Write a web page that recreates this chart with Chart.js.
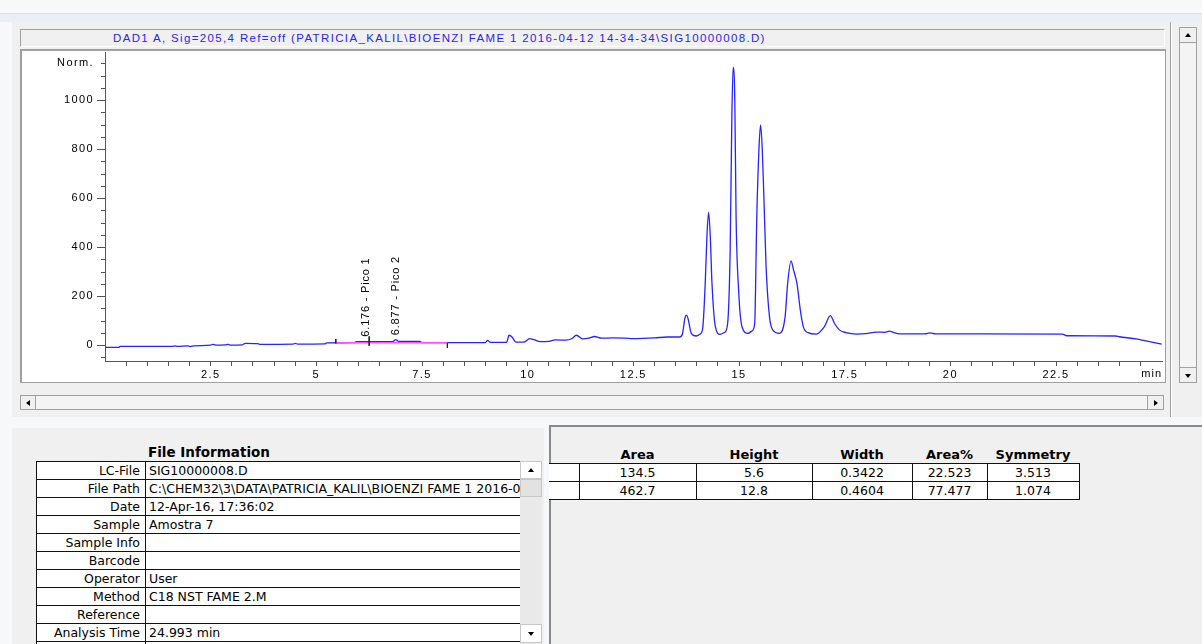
<!DOCTYPE html>
<html>
<head>
<meta charset="utf-8">
<script src="https://cdn.jsdelivr.net/npm/chart.js@4.4.0/dist/chart.umd.min.js"></script>
<style>
  body { margin:0; width:1202px; height:644px; overflow:hidden; position:relative; background:#f7f8fa; font-family:"DejaVu Sans", sans-serif; }
  .abs { position:absolute; box-sizing:border-box; }
  .sunken { border-top:1px solid #a0a0a0; border-left:1px solid #a0a0a0; border-bottom:1px solid #fff; border-right:1px solid #fff; }
  .btn { position:absolute; box-sizing:border-box; background:#f0f0f0; border:1px solid #a0a0a0; }
  .up, .down, .left, .right { position:absolute; width:0; height:0; }
  .up { border-left:3px solid transparent; border-right:3px solid transparent; border-bottom:4px solid #000; }
  .down { border-left:3px solid transparent; border-right:3px solid transparent; border-top:4px solid #000; }
  .left { border-top:3px solid transparent; border-bottom:3px solid transparent; border-right:4px solid #000; }
  .right { border-top:3px solid transparent; border-bottom:3px solid transparent; border-left:4px solid #000; }
  table { border-collapse:collapse; table-layout:fixed; font-size:12.5px; }
  td { border:1px solid #111; background:#fff; height:17px; padding:0; white-space:nowrap; overflow:hidden; line-height:16px; }
  #infoTable td.lab { text-align:right; padding-right:5px; }
  #infoTable td.val { text-align:left; padding-left:3px; }
  #peakTable td { text-align:center; }
  #peakTable th { font-weight:bold; height:17px; padding:0; font-size:13px; }
</style>
</head>
<body>
<!-- window chrome -->
<div class="abs" style="left:0;top:13px;width:1202px;height:9px;background:#eaeff5;border-top:1px solid #dadde2;"></div>
<div class="abs" style="left:12px;top:22px;width:1190px;height:395px;background:#f0f0f0;"></div>
<div class="abs" style="left:1170px;top:22px;width:2px;height:395px;border-left:1px solid #a0a0a0;border-right:1px solid #fff;"></div>

<!-- signal title -->
<div class="abs sunken" style="left:20px;top:29px;width:1145px;height:18px;background:#f0f0f0;"></div>
<div class="abs" style="left:113px;top:30px;font:11.5px 'Liberation Sans', Arial, sans-serif;letter-spacing:1.35px;color:#2828e8;white-space:nowrap;line-height:16px;">DAD1 A, Sig=205,4 Ref=off (PATRICIA_KALIL\BIOENZI FAME 1 2016-04-12 14-34-34\SIG10000008.D)</div>

<!-- plot frame -->
<div class="abs" style="left:20px;top:49px;width:1146px;height:334px;background:#fff;border-top:2px solid #a0a0a0;border-left:2px solid #a0a0a0;border-right:1px solid #a0a0a0;border-bottom:1px solid #a0a0a0;"></div>
<canvas id="chromChart" width="1141" height="330" class="abs" style="left:22px;top:51px;"></canvas>

<!-- vertical scrollbar -->
<div class="abs" style="left:1179px;top:27px;width:18px;height:356px;background:#f4f4f4;border:1px solid #a0a0a0;"></div>
<div class="btn" style="left:1179px;top:27px;width:18px;height:16px;"><div class="up" style="left:5px;top:5px;"></div></div>
<div class="btn" style="left:1179px;top:367px;width:18px;height:16px;"><div class="down" style="left:5px;top:6px;"></div></div>

<!-- horizontal scrollbar -->
<div class="abs" style="left:20px;top:395px;width:1144px;height:15px;background:#f4f4f4;border:1px solid #a0a0a0;"></div>
<div class="btn" style="left:20px;top:395px;width:16px;height:15px;"><div class="left" style="left:5px;top:4px;"></div></div>
<div class="btn" style="left:1147px;top:395px;width:17px;height:15px;"><div class="right" style="left:6px;top:4px;"></div></div>

<!-- bottom panels -->
<div class="abs" style="left:549px;top:425px;width:653px;height:1px;background:#c8c8c8;"></div>
<div class="abs" style="left:12px;top:428px;width:532px;height:216px;background:#f0f0f0;"></div>
<div class="abs" style="left:549px;top:425px;width:653px;height:219px;background:#f0f0f0;border-left:2px solid #8a8a8a;border-top:2px solid #8a8a8a;"></div>

<div class="abs" style="left:148px;top:444px;font-weight:bold;font-size:13.5px;line-height:16px;">File Information</div>
<table id="infoTable" class="abs" style="left:36px;top:461px;width:484px;">
  <colgroup><col style="width:109px"><col style="width:375px"></colgroup>
  <tbody></tbody>
</table>
<!-- info table scrollbar -->
<div class="abs" style="left:520px;top:461px;width:22px;height:183px;background:#e9e9e9;"></div>
<div class="btn" style="left:520px;top:461px;width:22px;height:18px;background:#fff;border-color:#c8c8c8;"><div class="up" style="left:7px;top:6px;"></div></div>
<div class="btn" style="left:520px;top:479px;width:22px;height:18px;background:#e2e2e2;border-color:#c8c8c8;"></div>
<div class="btn" style="left:520px;top:624px;width:22px;height:19px;background:#fff;border-color:#c8c8c8;"><div class="down" style="left:7px;top:7px;"></div></div>

<table id="peakTable" class="abs" style="left:549px;top:446px;width:530px;">
  <colgroup><col style="width:30px"><col style="width:117px"><col style="width:116px"><col style="width:100px"><col style="width:75px"><col style="width:92px"></colgroup>
  <thead><tr><th></th><th>Area</th><th>Height</th><th>Width</th><th>Area%</th><th>Symmetry</th></tr></thead>
  <tbody></tbody>
</table>

<script>
// chromatogram trace (time in min, signal in Norm.)
const timeMin = [0, 0.33, 0.36, 1.6, 1.65, 1.72, 1.95, 2.02, 2.1, 2.5, 2.55, 2.62, 2.85, 2.9, 2.96,
  3.25, 3.32, 3.6, 3.66, 4.45, 4.5, 4.56, 5.2, 5.25, 5.9, 5.95, 6.8, 6.88, 6.95, 7.45, 7.5,
  9.0, 9.05, 9.12, 9.5, 9.56, 9.63, 9.72, 9.9, 10.05, 10.15, 10.3, 10.5, 10.65, 10.9, 11.05,
  11.15, 11.3, 11.45, 11.58, 11.75, 12.0, 12.3, 12.5, 13.0, 13.3, 13.6, 13.66, 13.72, 13.75,
  13.79, 13.87, 13.99, 14.08, 14.14, 14.2, 14.24, 14.28, 14.32, 14.36, 14.44, 14.55, 14.66,
  14.73, 14.79, 14.83, 14.86, 14.9, 14.93, 14.99, 15.07, 15.21, 15.31, 15.37, 15.42, 15.47,
  15.51, 15.55, 15.59, 15.64, 15.72, 15.8, 15.96, 16.09, 16.15, 16.23, 16.29, 16.37, 16.45,
  16.52, 16.63, 16.83, 17.02, 17.16, 17.26, 17.38, 17.53, 17.77, 18.0, 18.25, 18.45, 18.56,
  18.65, 18.8, 19.4, 19.52, 19.65, 22.65, 22.75, 23.9, 24.0, 24.4, 24.6, 25.0];
const signal = [-9, -9, -5, -5, -3, -5, -3, -6, -3, 0, 3, 0, 1, 3, 0,
  1, 7, 6, 3, 4, 7, 4, 5, 9, 10, 14, 14, 22, 15, 15, 10,
  10, 19, 11, 11, 40, 33, 12, 12, 26, 22, 14, 15, 21, 20, 27,
  40, 25, 28, 35, 28, 29, 28, 26, 29, 33, 33, 45, 110, 122,
  110, 48, 37, 45, 68, 252, 442, 541, 442, 252, 75, 44, 52,
  88, 388, 932, 1133, 1000, 524, 224, 75, 48, 58, 88, 524, 796,
  898, 796, 592, 320, 116, 61, 48, 116, 252, 344, 306, 252, 143,
  75, 51, 45, 75, 120, 88, 61, 51, 45, 47, 53, 52, 57,
  52, 46, 46, 50, 46, 45, 38, 37, 34, 25, 18, 4];

// integration baseline and tick marks
const baselineTime = [5.46, 8.1];
const baselineValue = [9, 9];
const markTime = [5.46, 6.25, 8.1];
const markTop = [25, 35, 8];
const markBottom = [7, -3, -12];

// peak annotations
const peakTimes = [6.176, 6.877];
const peakNames = ['Pico 1', 'Pico 2'];
const peakLabelBase = [14, 20];

// peak table
const peakArea = ['134.5', '462.7'];
const peakHeight = ['5.6', '12.8'];
const peakWidth = ['0.3422', '0.4604'];
const peakAreaPct = ['22.523', '77.477'];
const peakSymmetry = ['3.513', '1.074'];

// file information
const fileInfoLabels = ['LC-File', 'File Path', 'Date', 'Sample', 'Sample Info', 'Barcode', 'Operator', 'Method', 'Reference', 'Analysis Time', ''];
const fileInfoValues = ['SIG10000008.D', 'C:\\CHEM32\\3\\DATA\\PATRICIA_KALIL\\BIOENZI FAME 1 2016-04-12 14-34-34', '12-Apr-16, 17:36:02', 'Amostra 7', '', '', 'User', 'C18 NST FAME 2.M', '', '24.993 min', ''];

// fill the tables
const infoBody = document.querySelector('#infoTable tbody');
fileInfoLabels.forEach((lab, i) => {
  const tr = document.createElement('tr');
  tr.innerHTML = '<td class="lab"></td><td class="val"></td>';
  tr.children[0].textContent = lab;
  tr.children[1].textContent = fileInfoValues[i];
  infoBody.appendChild(tr);
});
const peakBody = document.querySelector('#peakTable tbody');
peakArea.forEach((a, i) => {
  const tr = document.createElement('tr');
  [' ', a, peakHeight[i], peakWidth[i], peakAreaPct[i], peakSymmetry[i]].forEach(v => {
    const td = document.createElement('td');
    td.textContent = v;
    tr.appendChild(td);
  });
  tr.children[0].style.borderLeft = 'none';
  peakBody.appendChild(tr);
});

// wider letter spacing like the original software font
const spacing = {
  id: 'spacing',
  beforeDraw(chart) { chart.ctx.letterSpacing = '1.4px'; }
};

// short minor ticks on the y axis
const minorTicks = {
  id: 'minorTicks',
  afterDraw(chart) {
    const y = chart.scales.y;
    const c = chart.ctx;
    const left = chart.chartArea.left;
    c.save();
    c.strokeStyle = '#555';
    c.lineWidth = 1;
    c.beginPath();
    y.ticks.forEach(t => {
      if (t.value % 200 !== 0) {
        const p = Math.round(y.getPixelForValue(t.value)) + 0.5;
        c.moveTo(left - 4, p);
        c.lineTo(left, p);
      }
    });
    c.stroke();
    c.restore();
  }
};

// rotated peak labels and the "min" unit label
const peakLabels = {
  id: 'peakLabels',
  afterDraw(chart) {
    const { x, y } = chart.scales;
    const c = chart.ctx;
    c.save();
    c.fillStyle = '#000';
    c.font = '11px "Liberation Sans", Arial, sans-serif';
    c.letterSpacing = '0.8px';
    peakTimes.forEach((t, i) => {
      c.save();
      c.translate(x.getPixelForValue(t), y.getPixelForValue(peakLabelBase[i]) - 5);
      c.rotate(-Math.PI / 2);
      c.textAlign = 'left';
      c.textBaseline = 'middle';
      c.fillText(t.toFixed(3) + ' - ' + peakNames[i], 0, 0);
      c.restore();
    });
    c.letterSpacing = '1px';
    c.textAlign = 'right';
    c.textBaseline = 'middle';
    c.fillText('min', chart.chartArea.right - 1, chart.chartArea.bottom + 13);
    c.restore();
  }
};

const markPoints = [];
markTime.forEach((t, i) => {
  markPoints.push({ x: t, y: markTop[i] }, { x: t, y: markBottom[i] }, { x: t, y: null });
});

const axisFont = { family: '"Liberation Sans", Arial, sans-serif', size: 11 };

new Chart(document.getElementById('chromChart'), {
  type: 'line',
  data: {
    datasets: [
      {
        label: 'Baseline',
        data: baselineTime.map((t, i) => ({ x: t, y: baselineValue[i] })),
        borderColor: '#ff4dff',
        borderWidth: 1.5,
        pointRadius: 0,
        order: 1.5
      },
      {
        label: 'DAD1 A',
        data: timeMin.map((t, i) => ({ x: t, y: signal[i] })),
        borderColor: '#2424ff',
        borderWidth: 1.3,
        pointRadius: 0,
        cubicInterpolationMode: 'monotone',
        order: 2
      },
      {
        label: 'Marks',
        data: markPoints,
        borderColor: '#222',
        borderWidth: 1,
        pointRadius: 0,
        spanGaps: false,
        order: 1
      }
    ]
  },
  options: {
    responsive: false,
    animation: false,
    devicePixelRatio: 1,
    layout: { padding: { top: 1, right: 0, left: 0, bottom: 0 } },
    plugins: { legend: { display: false }, tooltip: { enabled: false } },
    scales: {
      x: {
        type: 'linear',
        min: 0,
        max: 25.03,
        afterFit: s => { s.height = 20; s.paddingLeft = 0; s.paddingRight = 0; },
        afterBuildTicks: s => { s.ticks = s.ticks.filter(t => t.value > 0 && t.value < 24.9); },
        ticks: {
          stepSize: 0.5,
          includeBounds: false,
          autoSkip: false,
          maxRotation: 0,
          padding: 2,
          color: '#000',
          font: axisFont,
          callback: v => (v % 2.5 === 0 ? String(v) : '')
        },
        grid: { drawOnChartArea: false, tickLength: 5, color: '#555' },
        border: { color: '#555' }
      },
      y: {
        min: -65,
        max: 1196,
        afterFit: s => { s.width = 83; s.paddingTop = 0; s.paddingBottom = 0; },
        ticks: {
          stepSize: 50,
          includeBounds: false,
          autoSkip: false,
          padding: 3,
          color: '#000',
          font: axisFont,
          callback: v => (v === 1150 ? 'Norm.' : (v % 200 === 0 ? String(v) : ''))
        },
        grid: {
          drawOnChartArea: false,
          tickLength: 8,
          color: c => (c.tick && c.tick.value % 200 === 0 ? '#555' : 'rgba(0,0,0,0)')
        },
        border: { color: '#555' }
      }
    }
  },
  plugins: [spacing, minorTicks, peakLabels]
});
</script>
</body>
</html>
